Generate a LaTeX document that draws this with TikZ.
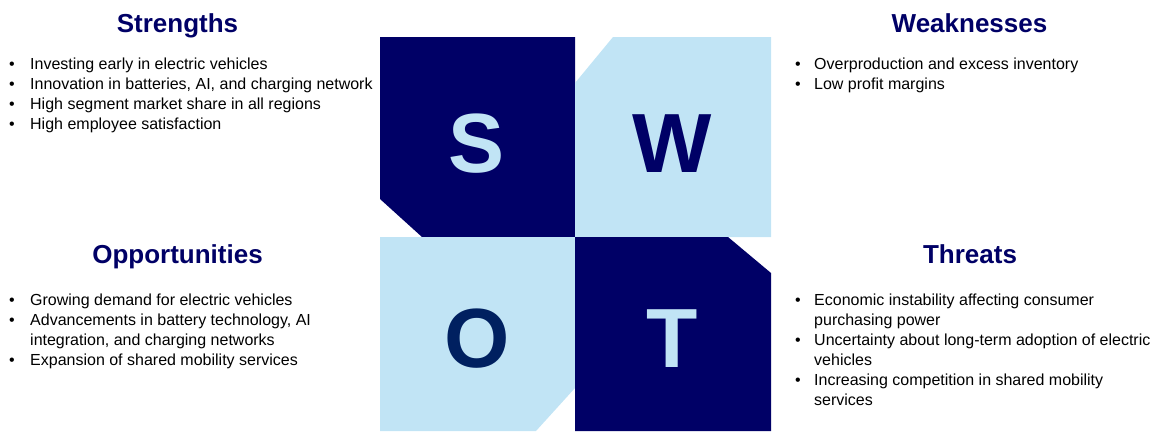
\documentclass[tikz,border=0pt]{standalone}
\usepackage{fontspec}
\setmainfont{Liberation Sans}
\definecolor{navy}{RGB}{0,0,102}
\definecolor{lblue}{RGB}{193,228,245}
\definecolor{oblue}{RGB}{0,32,96}
\newcommand{\bul}[1]{\makebox[#1][l]{•}}
\begin{document}
\begin{tikzpicture}[x=1pt,y=-1pt,
  title/.style={anchor=base,inner sep=0pt,text=navy,font=\fontsize{26}{30}\selectfont\bfseries},
  biglet/.style={anchor=base,inner sep=0pt,font=\fontsize{84}{90}\selectfont\bfseries},
  listnode/.style={anchor=base west,inner sep=0pt,font=\fontsize{16}{20}\selectfont,text=black}]
\useasboundingbox (0,0) rectangle (1167,431);
% quadrants
\fill[navy] (380,37) -- (575,37) -- (575,237) -- (422,237) -- (380,199) -- cycle;
\fill[lblue] (613,37) -- (771,37) -- (771,237) -- (575,237) -- (575,83) -- cycle;
\fill[lblue] (380,237) -- (575,237) -- (575,388) -- (536,431) -- (380,431) -- cycle;
\fill[navy] (575,237) -- (728,237) -- (771,273) -- (771,431) -- (575,431) -- cycle;
% letters
\node[biglet,text=lblue] (S) at (477,172) {S};
\node[biglet,text=navy] (W) at (672,172) {W};
\node[biglet,text=oblue] (O) at (477,367) {O};
\node[biglet,text=lblue] (T) at (672,367) {T};
% titles
\node[title] (ts) at (177.5,32) {Strengths};
\node[title] (tw) at (969.5,32) {Weaknesses};
\node[title] (to) at (177.5,263) {Opportunities};
\node[title] (tt) at (970,263) {Threats};
% lists
\node[listnode] (ls) at (9,69) {\begin{tabular}[t]{@{}l@{}l@{}}
\bul{21pt} & Investing early in electric vehicles\\
\bul{21pt} & Innovation in batteries, AI, and charging network\\
\bul{21pt} & High segment market share in all regions\\
\bul{21pt} & High employee satisfaction
\end{tabular}};
\node[listnode] (lw) at (795,69) {\begin{tabular}[t]{@{}l@{}l@{}}
\bul{19pt} & Overproduction and excess inventory\\
\bul{19pt} & Low profit margins
\end{tabular}};
\node[listnode] (lo) at (9,305) {\begin{tabular}[t]{@{}l@{}l@{}}
\bul{21pt} & Growing demand for electric vehicles\\
\bul{21pt} & Advancements in battery technology, AI\\
 & integration, and charging networks\\
\bul{21pt} & Expansion of shared mobility services
\end{tabular}};
\node[listnode] (lt) at (795,305) {\begin{tabular}[t]{@{}l@{}l@{}}
\bul{19pt} & Economic instability affecting consumer\\
 & purchasing power\\
\bul{19pt} & Uncertainty about long-term adoption of electric\\
 & vehicles\\
\bul{19pt} & Increasing competition in shared mobility\\
 & services
\end{tabular}};
\end{tikzpicture}
\end{document}
